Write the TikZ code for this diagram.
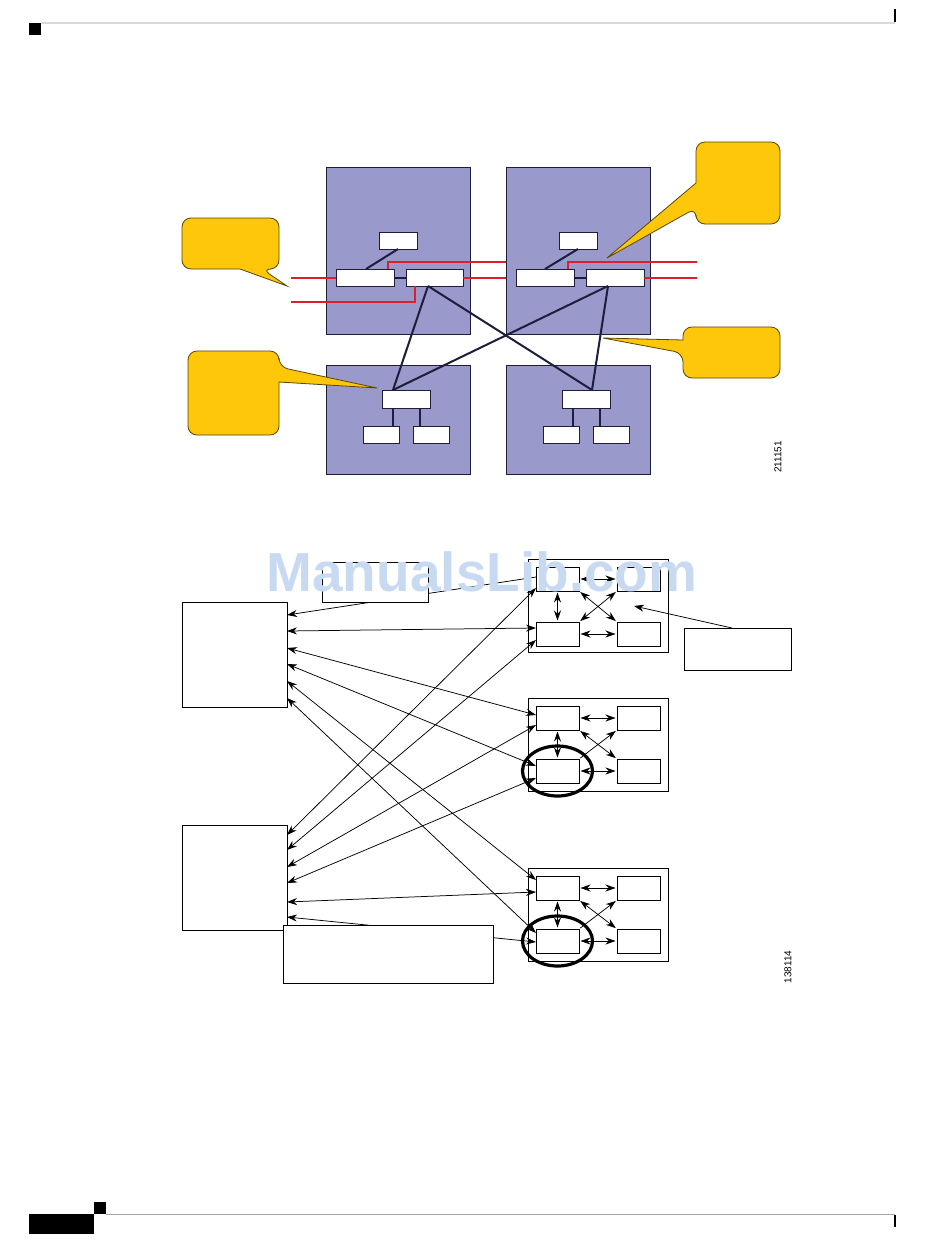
\documentclass[tikz,border=0pt]{standalone}
\usepackage{fontspec}
\setmainfont{Liberation Sans}
\usetikzlibrary{arrows.meta}
\definecolor{purp}{RGB}{153,153,204}
\definecolor{navy}{RGB}{30,30,60}
\definecolor{calloutyel}{RGB}{255,199,10}
\definecolor{calloutedge}{RGB}{90,70,0}
\definecolor{redline}{RGB}{220,30,45}
\definecolor{wmark}{RGB}{200,218,242}
\begin{document}
\begin{tikzpicture}[x=1pt,y=-1pt,
  pbox/.style={draw=navy, fill=purp, line width=1pt, inner sep=0pt, outer sep=0pt, anchor=north west},
  wbox/.style={draw=navy, fill=white, line width=0.9pt, inner sep=0pt, outer sep=0pt, anchor=north west},
  bbox/.style={draw=black, fill=white, line width=0.9pt, inner sep=0pt, outer sep=0pt, anchor=north west},
  router/.style={bbox, minimum width=43pt, minimum height=24pt},
  blk/.style={draw=navy, line width=2pt},
  redwire/.style={draw=redline, line width=2pt},
  callout/.style={fill=calloutyel, draw=calloutedge, line width=0.8pt},
  conn/.style={line width=0.75pt, -{Stealth[length=10pt,width=7pt]}},
  dconn/.style={line width=0.75pt, {Stealth[length=10pt,width=7pt]}-{Stealth[length=10pt,width=7pt]}},
  inner/.style={dconn, shorten <=1.5pt, shorten >=1.5pt},
  innerone/.style={conn, shorten <=1.5pt, shorten >=1.5pt},
]
\fill[white] (0,0) rectangle (950,1248);
\useasboundingbox (0,0) rectangle (950,1248);

% ---------- page header / footer ----------
\fill[black] (29,23) rectangle (41,35);
\draw[gray!30, line width=1.5pt] (41,23) -- (895,23);
\draw[black, line width=1.2pt] (895,9) -- (895,22);
\fill[black] (29,1214) rectangle (94,1234);
\fill[black] (94,1202) rectangle (106,1214);
\draw[gray!70, line width=1pt] (106,1214) -- (895,1214);
\draw[black, line width=1.2pt] (895,1215) -- (895,1227);

% ---------- top diagram ----------
\node[pbox, minimum width=144pt, minimum height=167pt] (P1) at (326,167) {};
\node[pbox, minimum width=144pt, minimum height=167pt] (P2) at (506,167) {};
\node[pbox, minimum width=144pt, minimum height=109pt] (P3) at (326,365) {};
\node[pbox, minimum width=144pt, minimum height=109pt] (P4) at (506,365) {};

\node[wbox, minimum width=38pt, minimum height=17pt] (sb1) at (379,232) {};
\node[wbox, minimum width=58pt, minimum height=17pt] (L1) at (336,269) {};
\node[wbox, minimum width=57pt, minimum height=17pt] (L2) at (406,269) {};
\node[wbox, minimum width=38pt, minimum height=17pt] (sb2) at (559,232) {};
\node[wbox, minimum width=58pt, minimum height=17pt] (L3) at (516,269) {};
\node[wbox, minimum width=58pt, minimum height=17pt] (L4) at (586,269) {};
\node[wbox, minimum width=48pt, minimum height=18pt] (M1) at (382,390) {};
\node[wbox, minimum width=36pt, minimum height=17pt] (S1) at (363,426) {};
\node[wbox, minimum width=36pt, minimum height=17pt] (S2) at (413,426) {};
\node[wbox, minimum width=48pt, minimum height=18pt] (M2) at (562,390) {};
\node[wbox, minimum width=36pt, minimum height=17pt] (S3) at (543,426) {};
\node[wbox, minimum width=36pt, minimum height=17pt] (S4) at (593,426) {};

% red wires
\coordinate (rl1) at (291,277.5);
\coordinate (rl2) at (291,302);
\coordinate (rA) at (506,262);
\coordinate (rB) at (697,262);
\coordinate (rC) at (697,277.5);
\draw[redwire] (rl1) -- (L1.west);
\draw[redwire] (rl2) -| ([xshift=9pt]L2.south west);
\draw[redwire] ([xshift=52pt]L1.north west) |- (rA);
\draw[redwire] (L2.east) -- (L2.east -| P2.west);
\draw[redwire] ([xshift=52pt]L3.north west) |- (rB);
\draw[redwire] (L4.east) -- (rC);

% black links
\draw[blk] (sb1.south) -- ([xshift=30pt]L1.north west);
\draw[blk] (sb2.south) -- ([xshift=29pt]L3.north west);
\draw[blk] (L1.east) -- (L2.west);
\draw[blk] (L3.east) -- (L4.west);
\draw[blk] ([xshift=11pt]M1.south west) -- ([xshift=30pt]S1.north west);
\draw[blk] ([xshift=38pt]M1.south west) -- ([xshift=7pt]S2.north west);
\draw[blk] ([xshift=11pt]M2.south west) -- ([xshift=30pt]S3.north west);
\draw[blk] ([xshift=38pt]M2.south west) -- ([xshift=7pt]S4.north west);
\draw[blk] ([xshift=22pt]L2.south west) -- ([xshift=11pt]M1.north west);
\draw[blk] ([xshift=22pt]L2.south west) -- ([xshift=30pt]M2.north west);
\draw[blk] ([xshift=22pt]L4.south west) -- ([xshift=11pt]M1.north west);
\draw[blk] ([xshift=22pt]L4.south west) -- ([xshift=30pt]M2.north west);

% callouts
\path[callout] (182,243) [rounded corners=9pt] -- (182,218) -- (279,218) -- (279,269) -- (262,269)
  [sharp corners] -- (287,286) -- (240,269) [rounded corners=9pt] -- (182,269) -- cycle;
\path[callout] (233,351) [rounded corners=9pt] -- (279,351) -- (279,367)
  [sharp corners] -- (377,388) -- (279,382) [rounded corners=9pt] -- (279,435) -- (188,435) -- (188,351) -- cycle;
\path[callout] (738,142) [rounded corners=9pt] -- (780,142) -- (780,224) -- (696,224) -- (696,208)
  [sharp corners] -- (607,258) -- (696,183) [rounded corners=9pt] -- (696,142) -- cycle;
\path[callout] (730,327) [rounded corners=9pt] -- (780,327) -- (780,378) -- (683,378) -- (683,353)
  [sharp corners] -- (603,338) -- (683,340) [rounded corners=9pt] -- (683,327) -- cycle;

\node[rotate=90, font=\fontsize{10}{12}\selectfont, inner sep=0pt] (n1) at (778,457) {211151};

% ---------- bottom diagram ----------
\node[bbox, minimum width=105pt, minimum height=105pt] (A) at (182,602) {};
\node[bbox, minimum width=105pt, minimum height=105pt] (B) at (182,825) {};

\node[bbox, minimum width=140pt, minimum height=93pt] (box1) at (528,559) {};
\node[bbox, minimum width=140pt, minimum height=93pt] (box2) at (528,698) {};
\node[bbox, minimum width=140pt, minimum height=93pt] (box3) at (528,868) {};

\node[router] (r1a) at (536,567) {};
\node[router] (r1b) at (617,567) {};
\node[router] (r1c) at (536,622) {};
\node[router] (r1d) at (617,622) {};
\node[router] (r2a) at (536,706) {};
\node[router] (r2b) at (617,706) {};
\node[router] (r2c) at (536,759) {};
\node[router] (r2d) at (617,759) {};
\node[router] (r3a) at (536,876) {};
\node[router] (r3b) at (617,876) {};
\node[router] (r3c) at (536,929) {};
\node[router] (r3d) at (617,929) {};

% intra-box links
\draw[inner] (r1a.east) -- (r1b.west);
\draw[inner] (r1a.south) -- (r1c.north);
\draw[inner] (r1c.east) -- (r1d.west);
\draw[inner] (r1a.south east) -- (r1d.north west);
\draw[inner] (r1c.north east) -- (r1b.south west);
\draw[inner] (r2a.east) -- (r2b.west);
\draw[inner] (r2a.south) -- (r2c.north);
\draw[inner] (r2c.east) -- (r2d.west);
\draw[inner] (r2a.south east) -- (r2d.north west);
\draw[innerone] (r2c.north east) -- (r2b.south west);
\draw[inner] (r3a.east) -- (r3b.west);
\draw[inner] (r3a.south) -- (r3c.north);
\draw[inner] (r3c.east) -- (r3d.west);
\draw[inner] (r3a.south east) -- (r3d.north west);
\draw[innerone] (r3c.north east) -- (r3b.south west);

% long connectors
\draw[conn] ([yshift=-10pt]r1a.north west) -- ([yshift=-13pt]A.north east);
\draw[dconn] ([yshift=-29pt]A.north east) -- ([yshift=-6pt]r1c.north west);
\draw[dconn] ([yshift=-46pt]A.north east) -- ([yshift=-9pt]r2a.north west);
\draw[dconn] ([yshift=-62pt]A.north east) -- ([yshift=-7pt]r2c.north west);
\draw[dconn] ([yshift=-79pt]A.north east) -- ([yshift=-4pt]r3a.north west);
\draw[dconn] ([yshift=-96pt]A.north east) -- ([yshift=-4pt]r3c.north west);
\draw[dconn] ([yshift=-10pt]B.north east) -- ([yshift=-21pt]r1a.north west);
\draw[dconn] ([yshift=-25pt]B.north east) -- ([yshift=-18pt]r1c.north west);
\draw[dconn] ([yshift=-42pt]B.north east) -- ([yshift=-19pt]r2a.north west);
\draw[dconn] ([yshift=-58pt]B.north east) -- ([yshift=-19pt]r2c.north west);
\draw[dconn] ([yshift=-77pt]B.north east) -- ([yshift=-16pt]r3a.north west);
\draw[dconn] ([yshift=-92pt]B.north east) -- ([yshift=-13pt]r3c.north west);

% label boxes (on top of connectors)
\node[bbox, minimum width=106pt, minimum height=40pt] (D) at (322,562) {};
\node[bbox, minimum width=210pt, minimum height=58pt] (E) at (283,925) {};
\node[bbox, minimum width=107pt, minimum height=42pt] (F) at (684,628) {};
\coordinate (fp) at (634,606);
\draw[conn] ([xshift=48pt]F.north west) -- (fp);

% highlight ellipses
\draw[line width=3.2pt] (r2c.center) ellipse [x radius=35pt, y radius=25pt];
\draw[line width=3.2pt] (r3c.center) ellipse [x radius=35pt, y radius=25pt];

\node[rotate=90, font=\fontsize{10}{12}\selectfont, inner sep=0pt] (n2) at (788,967) {138114};

% watermark
\node[font=\bfseries\fontsize{55}{55}\selectfont, text=wmark, anchor=base, inner sep=0pt] (wm) at (482,591) {ManualsLib.com};
\end{tikzpicture}
\end{document}
